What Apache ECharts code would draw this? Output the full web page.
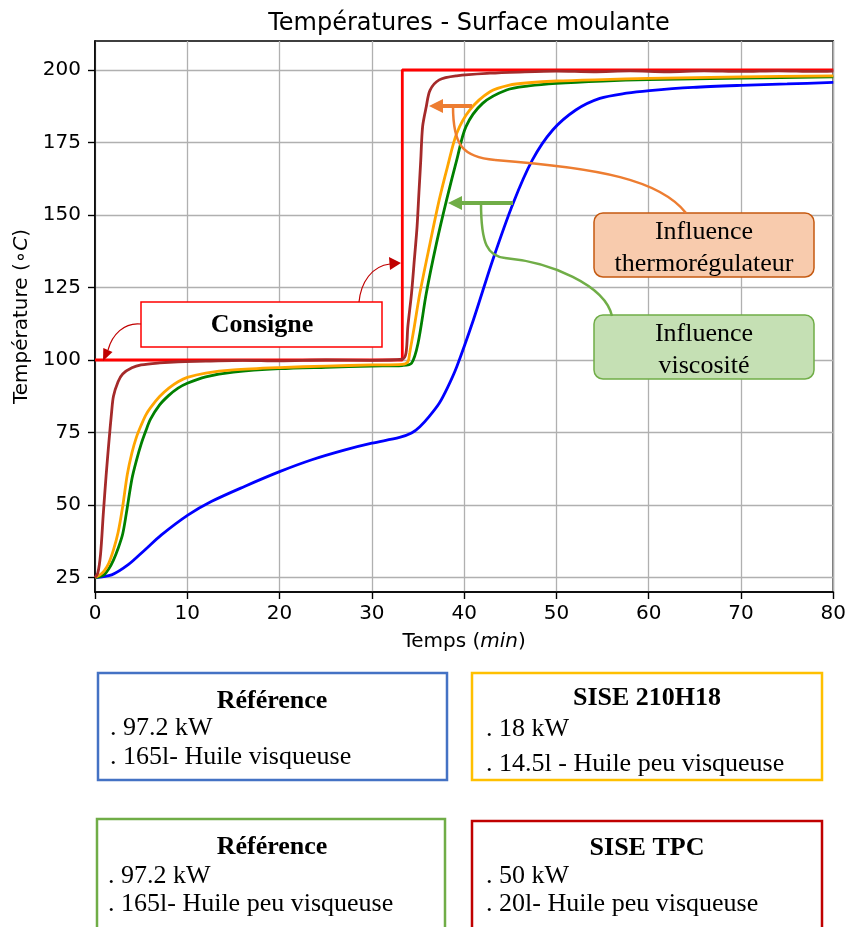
<!DOCTYPE html>
<html><head><meta charset="utf-8">
<script src="https://cdn.jsdelivr.net/npm/echarts@6/dist/echarts.min.js"></script>
<style>html,body{margin:0;padding:0;background:#fff}#c{width:849px;height:927px}</style>
</head><body><div id="c"></div>
<script>
// ---- data ----
const xTicks = [0, 10, 20, 30, 40, 50, 60, 70, 80];
const yTicks = [25, 50, 75, 100, 125, 150, 175, 200];

const timeConsigne = [0, 33.3, 33.3, 80];
const tempConsigne = [100, 100, 200, 200];

const timeRefVisq = [0, 1.8, 3.6, 5.4, 7.2, 10.1, 12.6, 16.2, 20, 23.5, 27.1, 30, 33, 34.3, 35.2, 36.2, 37.3, 38.2, 39.2, 41, 43.1, 45.3, 47.4, 49.6, 52.1, 54.7, 57.6, 60.1, 64.8, 70, 75, 80];
const tempRefVisq = [25, 25.9, 29.4, 34.5, 39.7, 46.6, 51.2, 56.4, 61.5, 65.6, 69, 71.3, 73.3, 74.8, 77, 80.5, 85.1, 90.5, 97.7, 113.8, 134.5, 154, 169, 179.3, 186.2, 190.2, 192, 192.9, 194, 194.7, 195.2, 195.7];

const timeRefPeu = [0, 0.5, 1, 1.5, 2, 2.5, 3, 3.4, 4, 4.5, 5, 5.5, 6, 7, 8, 9, 10, 12, 15, 20, 25, 30, 33.3, 34.3, 35.0, 35.9, 37.0, 38.1, 39.2, 40.2, 42.0, 44.6, 47, 50, 55, 60, 70, 80];
const tempRefPeu = [25, 25.3, 26, 28, 31, 35, 40, 47.2, 59, 65.5, 71, 75.5, 79.5, 84.5, 87.8, 90.3, 92, 94.2, 95.8, 97, 97.5, 97.9, 98.1, 98.9, 105.7, 123, 140.2, 155.2, 169, 180.5, 188.5, 193.1, 194.5, 195.4, 196.2, 196.7, 197.2, 197.6];

const timeSise210 = [0, 0.5, 1, 1.5, 2, 2.5, 3, 3.5, 4, 4.5, 5, 5.5, 6, 7, 8, 9, 10, 12, 15, 20, 25, 30, 33.3, 33.9, 34.1, 34.6, 35.2, 36.3, 37.3, 38.2, 39.2, 40.6, 42.8, 44.9, 47, 50, 55, 60, 70, 80];
const tempSise210 = [25, 25.8, 27.3, 30, 34.5, 40.5, 49.5, 60.5, 68, 73.5, 77.5, 81, 83.5, 87.4, 90.3, 92.5, 94, 95.5, 96.6, 97.4, 97.9, 98.3, 98.5, 99.4, 102.4, 111.5, 123, 140.2, 155.2, 166.7, 178.2, 186.2, 192.5, 194.8, 195.6, 196.2, 196.7, 197.1, 197.6, 198];

const timeSiseTPC = [0, 0.3, 0.6, 0.9, 1.2, 1.5, 1.8, 2.0, 2.5, 3.0, 4.0, 5.0, 7.0, 9.0, 12, 16, 20, 25, 30, 33.3, 33.7, 33.9, 34.3, 34.6, 34.9, 35.1, 35.3, 35.5, 35.9, 36.3, 37.3, 39.2, 42.8, 46, 50, 54, 58, 62, 66, 70, 74, 78, 80];
const tempSiseTPC = [25, 26.5, 33, 47, 60, 71.5, 82, 87.5, 92.5, 95.2, 97.3, 98.3, 99, 99.4, 99.6, 99.9, 99.7, 100, 99.9, 100.3, 102.4, 111.5, 123, 134.4, 146, 157.6, 168.9, 180.5, 187.4, 193, 196.6, 198, 198.9, 199.3, 199.6, 199.4, 199.7, 199.4, 199.7, 199.5, 199.7, 199.5, 199.6];

const zip = (t, v) => t.map((x, i) => [x, v[i]]);

const chart = echarts.init(document.getElementById('c'), null, {renderer: 'canvas'});
const sans = 'DejaVu Sans';
const serif = '"Liberation Serif", "Times New Roman", serif';

function line(name, t, v, color, smooth) {
  return {
    name, type: 'line', data: zip(t, v), showSymbol: false, symbol: 'none',
    smooth: smooth ? 0.3 : false,
    lineStyle: {color, width: 2.8}, itemStyle: {color}, z: 2
  };
}

function txt(text, x, y, size, bold, align) {
  return {type: 'text', z: 100, style: {text, x, y, font: (bold ? 'bold ' : '') + size + 'px ' + serif,
    fill: '#000', align: align || 'left', verticalAlign: 'middle', textAlign: align || 'left', textVerticalAlign: 'middle'}};
}
function box(x, y, w, h, stroke, fill, lw, r) {
  return {type: 'rect', z: 90, shape: {x, y, width: w, height: h, r: r || 0},
    style: {fill: fill || 'none', stroke, lineWidth: lw}};
}
function bez(p, color, lw) {
  return {type: 'bezierCurve', z: 95, shape: {x1: p[0], y1: p[1], cpx1: p[2], cpy1: p[3], cpx2: p[4], cpy2: p[5], x2: p[6], y2: p[7]},
    style: {stroke: color, lineWidth: lw, fill: 'none'}};
}
function seg(x1, y1, x2, y2, color, lw) {
  return {type: 'line', z: 95, shape: {x1, y1, x2, y2}, style: {stroke: color, lineWidth: lw}};
}
function tri(pts, color) {
  return {type: 'polygon', z: 96, shape: {points: pts}, style: {fill: color}};
}

const orangeA = '#ED7D31', greenA = '#70AD47', darkRed = '#C00000';

const graphics = [
  // Consigne
  box(141, 302, 241, 45, '#ff0000', '#ffffff', 1.5),
  txt('Consigne', 262, 325, 26, true, 'center'),
  bez([141, 324, 124, 322, 112, 335, 108, 350], darkRed, 1.2),
  tri([[103, 361], [112.5, 352], [103.3, 348]], darkRed),
  bez([359, 302, 361, 282, 372, 266, 390, 264], darkRed, 1.2),
  tri([[401, 263], [389, 257], [390, 270]], darkRed),
  // Influence thermorégulateur
  seg(472, 106, 441, 106, orangeA, 4),
  tri([[429, 106], [443, 99], [443, 113]], orangeA),
  bez([453, 106, 453, 145, 462, 157, 495, 160], orangeA, 2.5),
  bez([495, 160, 600, 168, 660, 180, 686, 213], orangeA, 2.5),
  box(594, 213, 220, 64, '#C55A11', '#F8CBAD', 1.5, 9),
  txt('Influence', 704, 232, 26, false, 'center'),
  txt('thermorégulateur', 704, 264, 26, false, 'center'),
  // Influence viscosité
  seg(513, 203, 460, 203, greenA, 4),
  tri([[448, 203], [462, 196], [462, 210]], greenA),
  bez([481, 203, 481, 245, 488, 256, 505, 258], greenA, 2.5),
  bez([505, 258, 550, 262, 605, 285, 612, 316], greenA, 2.5),
  box(594, 315, 220, 64, greenA, '#C5E0B4', 1.5, 9),
  txt('Influence', 704, 334, 26, false, 'center'),
  txt('viscosité', 704, 366, 26, false, 'center'),
  // bottom boxes
  box(98, 673, 349, 107, '#4472C4', 'none', 2.5),
  txt('Référence', 272, 701, 26, true, 'center'),
  txt('. 97.2 kW', 110, 728, 26, false),
  txt('. 165l- Huile visqueuse', 110, 757, 26, false),
  box(472, 673, 350, 107, '#FFC000', 'none', 2.5),
  txt('SISE 210H18', 647, 698, 26, true, 'center'),
  txt('. 18 kW', 486, 729, 26, false),
  txt('. 14.5l - Huile peu visqueuse', 486, 764, 26, false),
  box(97, 819, 348, 130, greenA, 'none', 2.5),
  txt('Référence', 272, 847, 26, true, 'center'),
  txt('. 97.2 kW', 108, 876, 26, false),
  txt('. 165l- Huile peu visqueuse', 108, 904, 26, false),
  box(472, 821, 350, 130, darkRed, 'none', 2.5),
  txt('SISE TPC', 647, 848, 26, true, 'center'),
  txt('. 50 kW', 486, 876, 26, false),
  txt('. 20l- Huile peu visqueuse', 486, 904, 26, false)
];

const option = {
  animation: false,
  backgroundColor: '#fff',
  title: {text: 'Températures - Surface moulante', left: 464, top: 7, textAlign: 'center',
    textStyle: {fontFamily: sans, fontSize: 24, fontWeight: 'normal', color: '#000'}},
  grid: {left: 95, right: 15, top: 41, bottom: 335, show: true, borderColor: '#000', borderWidth: 1.6, backgroundColor: 'transparent'},
  xAxis: {
    type: 'value', min: 0, max: 80, interval: 10,
    name: '{a|Temps (}{i|min}{a|)}', nameLocation: 'middle', nameGap: 40,
    nameTextStyle: {rich: {a: {fontFamily: sans, fontSize: 20, color: '#000'}, i: {fontFamily: sans, fontStyle: 'italic', fontSize: 20, color: '#000'}}},
    axisLine: {show: true, onZero: false, lineStyle: {color: '#000', width: 1.6}},
    axisTick: {show: true, length: 7, lineStyle: {color: '#000', width: 1.4}},
    axisLabel: {fontFamily: sans, fontSize: 20, color: '#000', margin: 12},
    splitLine: {show: true, lineStyle: {color: '#b0b0b0', width: 1.3}}
  },
  yAxis: {
    type: 'value', min: 20, max: 210, interval: 5,
    name: '{a|Température (∘}{i|C}{a|)}', nameLocation: 'middle', nameGap: 60, nameRotate: 90,
    nameTextStyle: {rich: {a: {fontFamily: sans, fontSize: 20, color: '#000'}, i: {fontFamily: sans, fontStyle: 'italic', fontSize: 20, color: '#000'}}},
    axisLine: {show: true, onZero: false, lineStyle: {color: '#000', width: 1.6}},
    axisTick: {show: true, length: 7, customValues: yTicks, lineStyle: {color: '#000', width: 1.4}},
    axisLabel: {fontFamily: sans, fontSize: 20, color: '#000', margin: 14, customValues: yTicks},
    splitLine: {show: true, lineStyle: {color: '#b0b0b0', width: 1.3}}
  },
  series: [
    line('Consigne', timeConsigne, tempConsigne, '#ff0000', false),
    line('Référence visqueuse', timeRefVisq, tempRefVisq, '#0000ff', true),
    line('Référence peu visqueuse', timeRefPeu, tempRefPeu, '#008000', true),
    line('SISE 210H18', timeSise210, tempSise210, '#ffa500', true),
    line('SISE TPC', timeSiseTPC, tempSiseTPC, '#a52a2a', true)
  ],
  graphic: graphics
};
chart.setOption(option);
</script></body></html>
